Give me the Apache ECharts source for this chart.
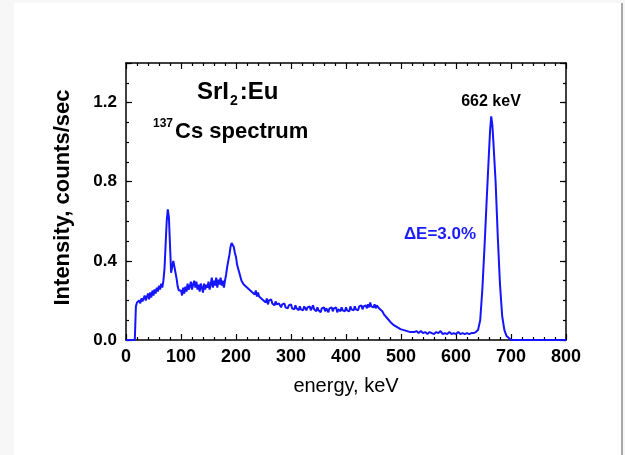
<!DOCTYPE html>
<html>
<head>
<meta charset="utf-8">
<script src="https://cdn.jsdelivr.net/npm/echarts@6/dist/echarts.min.js"></script>
<style>
  html, body { margin: 0; padding: 0; }
  body { width: 625px; height: 455px; background: #f7f7f7; position: relative; overflow: hidden; }
  #paper { position: absolute; left: 14px; top: 3px; width: 607px; height: 452px; background: #fff; border-right: 2px solid #a8a8a8; }
  #chart { position: absolute; left: 0; top: 0; width: 625px; height: 455px; }
</style>
</head>
<body>
<div id="paper"></div>
<div id="chart"></div>
<script>
// [energy keV, intensity counts/sec]
const lowPart = [
  [0, 0], [16, 0], [17, 0], [18, 0.17], [20, 0.19], [22, 0.18], [24, 0.20], [26, 0.185], [28, 0.21], [30, 0.195],
  [32, 0.19], [34, 0.225], [36, 0.20], [38, 0.21], [40, 0.235], [42, 0.205], [44, 0.24], [46, 0.215], [48, 0.25], [50, 0.225],
  [52, 0.255], [54, 0.235], [56, 0.265], [58, 0.245], [60, 0.275], [62, 0.255], [64, 0.285], [66, 0.265], [68, 0.30], [70, 0.36],
  [72, 0.48], [74, 0.60], [76, 0.66], [78, 0.62], [80, 0.48], [82, 0.34], [84, 0.33], [86, 0.40], [88, 0.37], [90, 0.34],
  [92, 0.31], [94, 0.27], [96, 0.25], [98, 0.24]
]
const comptonPart = [
  [100, 0.25], [102, 0.225], [104, 0.265], [106, 0.235], [108, 0.27], [110, 0.245], [112, 0.285], [114, 0.255], [116, 0.27], [118, 0.295],
  [120, 0.255], [122, 0.28], [124, 0.30], [126, 0.265], [128, 0.295], [130, 0.255], [132, 0.28], [134, 0.245], [136, 0.285], [138, 0.265],
  [140, 0.24], [142, 0.285], [144, 0.255], [146, 0.28], [148, 0.265], [150, 0.295], [152, 0.255], [154, 0.28], [156, 0.315], [158, 0.265],
  [160, 0.30], [162, 0.275], [164, 0.315], [166, 0.265], [168, 0.305], [170, 0.28], [172, 0.315], [174, 0.275], [176, 0.30], [178, 0.265],
  [180, 0.30], [182, 0.33], [184, 0.37], [186, 0.40], [188, 0.43], [190, 0.47], [192, 0.49], [194, 0.50], [196, 0.47], [198, 0.44],
  [200, 0.42], [202, 0.38], [204, 0.36], [206, 0.34], [208, 0.33], [210, 0.30], [212, 0.31], [214, 0.28], [216, 0.29], [218, 0.27],
  [220, 0.28], [222, 0.26], [224, 0.27], [226, 0.25], [228, 0.26], [230, 0.24], [232, 0.25], [234, 0.23], [236, 0.25], [238, 0.22],
  [240, 0.24], [242, 0.22], [244, 0.23], [246, 0.21], [248, 0.22], [250, 0.20], [252, 0.21], [254, 0.19], [256, 0.21], [258, 0.18]
]
const plateauPart = [
  [260, 0.20], [262, 0.19], [264, 0.205], [266, 0.185], [268, 0.19], [270, 0.175], [272, 0.195], [274, 0.18], [276, 0.17], [278, 0.185],
  [280, 0.18], [282, 0.165], [284, 0.18], [286, 0.17], [288, 0.185], [290, 0.165], [292, 0.175], [294, 0.16], [296, 0.175], [298, 0.17],
  [300, 0.18], [302, 0.16], [304, 0.17], [306, 0.155], [308, 0.175], [310, 0.16], [312, 0.165], [314, 0.15], [316, 0.17], [318, 0.155],
  [320, 0.165], [322, 0.15], [324, 0.17], [326, 0.16], [328, 0.15], [330, 0.165], [332, 0.155], [334, 0.17], [336, 0.15], [338, 0.16],
  [340, 0.175], [342, 0.155], [344, 0.16], [346, 0.145], [348, 0.165], [350, 0.15], [352, 0.16], [354, 0.14], [356, 0.16], [358, 0.15],
  [360, 0.165], [362, 0.145], [364, 0.16], [366, 0.15], [368, 0.14], [370, 0.16], [372, 0.15], [374, 0.165], [376, 0.145], [378, 0.16],
  [380, 0.15], [382, 0.165], [384, 0.14], [386, 0.155], [388, 0.16], [390, 0.145], [392, 0.165], [394, 0.15], [396, 0.16], [398, 0.145],
  [400, 0.165], [402, 0.15], [404, 0.16], [406, 0.145], [408, 0.17], [410, 0.155], [412, 0.165], [414, 0.15], [416, 0.17], [418, 0.155],
  [420, 0.165], [422, 0.15], [424, 0.17], [426, 0.16], [428, 0.175], [430, 0.155], [432, 0.17], [434, 0.16], [436, 0.175], [438, 0.16],
  [440, 0.18], [442, 0.165], [444, 0.19], [446, 0.17], [448, 0.18], [450, 0.165], [452, 0.18], [454, 0.16], [456, 0.175], [458, 0.165]
]
const edgePart = [
  [460, 0.16], [463, 0.15], [466, 0.145], [469, 0.13], [472, 0.125], [475, 0.11], [478, 0.105], [481, 0.09], [484, 0.085], [487, 0.075],
  [490, 0.075], [493, 0.065], [496, 0.065], [499, 0.055], [502, 0.06], [505, 0.05], [508, 0.055], [511, 0.045], [514, 0.05], [517, 0.04],
  [520, 0.05], [524, 0.04], [528, 0.045], [532, 0.035], [536, 0.045], [540, 0.035], [544, 0.04], [548, 0.03], [552, 0.04], [556, 0.035],
  [560, 0.03], [564, 0.04], [568, 0.035], [572, 0.045], [576, 0.03], [580, 0.035], [584, 0.03], [588, 0.04], [592, 0.03], [596, 0.035],
  [600, 0.03], [604, 0.04], [608, 0.03], [612, 0.035], [616, 0.03], [620, 0.035], [624, 0.03], [628, 0.035], [632, 0.035], [636, 0.04]
]
const photopeak = [
  [640, 0.05], [644, 0.10], [648, 0.26], [652, 0.48], [656, 0.72], [660, 0.95], [662, 1.06], [664, 1.13], [666, 1.09], [668, 1.00],
  [672, 0.80], [676, 0.52], [680, 0.28], [684, 0.12], [688, 0.05], [692, 0.02], [696, 0.01], [700, 0], [720, 0], [800, 0]
]
const xTicks = [0, 800, 100]
const yTicks = [0, 1.4, 0.4]

const spectrum = [].concat(lowPart, comptonPart, plateauPart, edgePart, photopeak)

const chart = echarts.init(document.getElementById('chart'))
const font = 'Liberation Sans, Arial, sans-serif'
const axisLineStyle = { color: '#000', width: 1.5 }

function xAxisOf(position, withLabels) {
  return {
    type: 'value',
    position: position,
    min: xTicks[0],
    max: xTicks[1],
    interval: xTicks[2],
    axisLine: { show: true, onZero: false, lineStyle: axisLineStyle },
    axisTick: { show: true, inside: true, length: 6, lineStyle: { color: '#000', width: 1.2 } },
    minorTick: { show: true, splitNumber: 5, length: 3, lineStyle: { color: '#000', width: 1.2 } },
    splitLine: { show: false },
    axisLabel: {
      show: withLabels,
      color: '#000',
      fontFamily: font,
      fontWeight: 'bold',
      fontSize: 18,
      margin: 8
    },
    name: withLabels ? 'energy, keV' : '',
    nameLocation: 'middle',
    nameGap: 36,
    nameTextStyle: { color: '#000', fontFamily: font, fontSize: 20 }
  }
}

// major ticks with labels every 0.4, short ticks every 0.1 on a second axis
function yAxisOf(position, major, withLabels) {
  return {
    type: 'value',
    position: position,
    min: yTicks[0],
    max: yTicks[1],
    interval: major ? yTicks[2] : 0.1,
    axisLine: { show: major, onZero: false, lineStyle: axisLineStyle },
    axisTick: { show: true, inside: true, length: major ? 6 : 3, lineStyle: { color: '#000', width: 1.2 } },
    splitLine: { show: false },
    axisLabel: {
      show: withLabels,
      color: '#000',
      fontFamily: font,
      fontWeight: 'bold',
      fontSize: 17,
      margin: 9,
      formatter: v => (v > 1.3 ? '' : v.toFixed(1))
    },
    name: withLabels ? 'Intensity, counts/sec' : '',
    nameLocation: 'middle',
    nameGap: 52,
    nameTextStyle: { color: '#000', fontFamily: font, fontWeight: 'bold', fontSize: 22, padding: [0, 0, 0, 8] }
  }
}

chart.setOption({
  animation: false,
  grid: { left: 126, right: 59, top: 63, bottom: 115, containLabel: false },
  xAxis: [xAxisOf('bottom', true), xAxisOf('top', false)],
  yAxis: [
    yAxisOf('left', true, true),
    yAxisOf('left', false, false),
    yAxisOf('right', true, false),
    yAxisOf('right', false, false)
  ],
  series: [
    {
      type: 'line',
      xAxisIndex: 0,
      yAxisIndex: 0,
      data: spectrum,
      showSymbol: false,
      lineStyle: { color: '#1414ff', width: 2 }
    }
  ],
  graphic: [
    {
      type: 'text',
      x: 197,
      y: 80,
      style: {
        text: '{a|SrI}{b|2}{a|:Eu}',
        verticalAlign: 'top',
        rich: {
          a: { fontFamily: font, fontWeight: 'bold', fontSize: 24, lineHeight: 28, verticalAlign: 'top', fill: '#000' },
          b: { fontFamily: font, fontWeight: 'bold', fontSize: 14, lineHeight: 14, padding: [22, 2, 0, 1], verticalAlign: 'bottom', fill: '#000' }
        }
      }
    },
    {
      type: 'text',
      x: 153,
      y: 118,
      style: {
        text: '{p|137}{c|Cs spectrum}',
        verticalAlign: 'top',
        rich: {
          p: { fontFamily: font, fontWeight: 'bold', fontSize: 12, lineHeight: 14, verticalAlign: 'top', fill: '#000' },
          c: { fontFamily: font, fontWeight: 'bold', fontSize: 22, lineHeight: 25, padding: [5, 0, 0, 2], verticalAlign: 'bottom', fill: '#000' }
        }
      }
    },
    {
      type: 'text',
      x: 491,
      y: 110,
      style: { text: '662 keV', align: 'center', verticalAlign: 'bottom', fontFamily: font, fontWeight: 'bold', fontSize: 16, fill: '#000' }
    },
    {
      type: 'text',
      x: 440,
      y: 243,
      style: { text: 'ΔE=3.0%', align: 'center', verticalAlign: 'bottom', fontFamily: font, fontWeight: 'bold', fontSize: 17, fill: '#1a1aff' }
    }
  ]
})
</script>
</body>
</html>
